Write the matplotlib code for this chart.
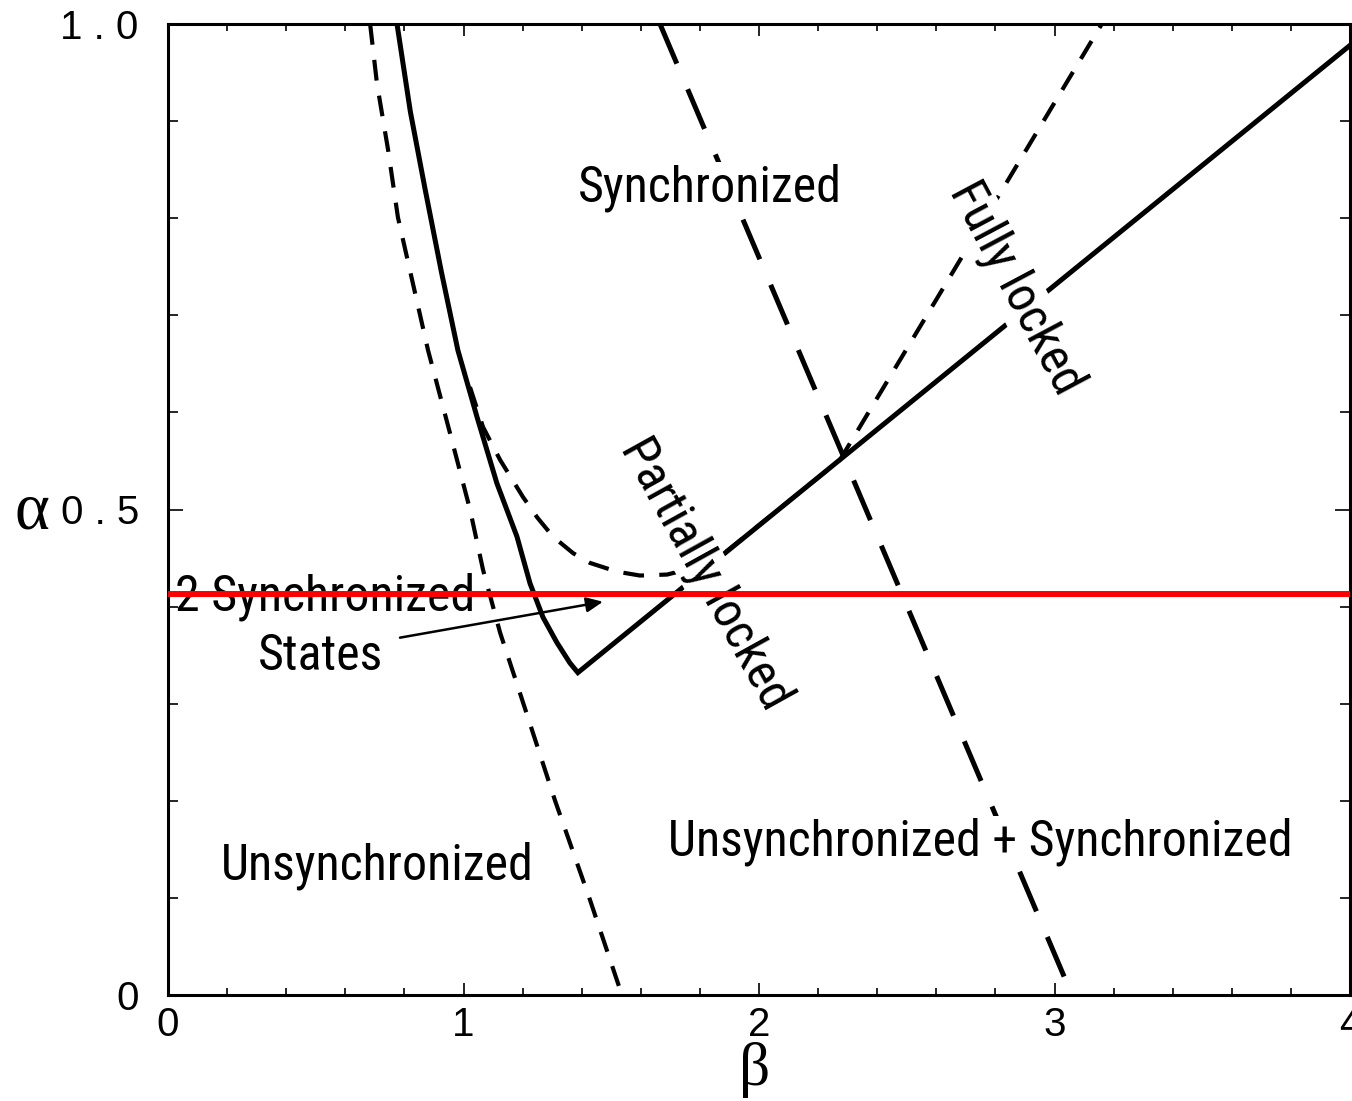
import matplotlib
matplotlib.use("Agg")
import matplotlib.pyplot as plt
from matplotlib import font_manager
import numpy as np

# ---------------- data ----------------
# left short-dashed boundary
left_dash_beta = [0.684, 0.707, 0.745, 0.778, 0.88, 0.954, 1.022, 1.066, 1.124, 1.191, 1.31, 1.428, 1.536]
left_dash_alpha = [1.0, 0.939, 0.870, 0.801, 0.664, 0.579, 0.50, 0.438, 0.373, 0.311, 0.20, 0.098, 0.0]

# solid boundary (curved part + straight part)
solid_beta = [0.775, 0.82, 0.87, 0.925, 0.981, 1.046, 1.113, 1.181, 1.225, 1.269, 1.316, 1.360, 1.387, 4.0]
solid_alpha = [1.0, 0.91, 0.83, 0.745, 0.664, 0.595, 0.527, 0.472, 0.424, 0.389, 0.363, 0.342, 0.332, 0.978]

# short-dashed U-shaped boundary
u_dash_beta = [1.022, 1.066, 1.124, 1.201, 1.249, 1.303, 1.371, 1.428, 1.519, 1.597, 1.689, 1.78, 1.85, 2.274, 3.16]
u_dash_alpha = [0.626, 0.585, 0.551, 0.513, 0.492, 0.472, 0.455, 0.445, 0.436, 0.432, 0.433, 0.440, 0.447, 0.551, 1.0]

# long-dashed boundary
long_dash_beta = [1.665, 3.059]
long_dash_alpha = [1.0, 0.0]

# red horizontal line
red_alpha = 0.413

x_ticks = [0, 1, 2, 3, 4]
x_tick_labels = ["0", "1", "2", "3", "4"]
y_ticks = [0, 0.5, 1.0]
y_tick_labels = ["0", "0 . 5", "1 . 0"]

# ---------------- fonts ----------------
avail = {f.name for f in font_manager.fontManager.ttflist}
narrow = "Liberation Sans"
for cand in ["Liberation Sans Narrow", "Arimo Narrow", "Roboto Condensed", "PT Sans Narrow",
             "Archivo Narrow", "Barlow Semi Condensed"]:
    if cand in avail:
        narrow = cand
        break
plt.rcParams['font.family'] = ['Liberation Sans', 'DejaVu Sans']
plt.rcParams['lines.scale_dashes'] = False

fig = plt.figure(figsize=(13.52, 11.01), dpi=100)
ax = fig.add_axes([168/1352, 1 - 995/1101, (1350-168)/1352, (995-24)/1101])
ax.set_xlim(0, 4)
ax.set_ylim(0, 1)

# fit label font size so the long label has the reference width (~624 px)
renderer = fig.canvas.get_renderer()
probe = fig.text(0, 0, "Unsynchronized + Synchronized", family=[narrow, 'DejaVu Sans'], fontsize=38)
w = probe.get_window_extent(renderer).width
probe.remove()
lab_size = 38 * 624.0 / w

short = (0, (15, 11))
longd = (0, (31, 20))

ax.plot(left_dash_beta, left_dash_alpha, color='black', lw=3.0, linestyle=short, zorder=2)
ax.plot(u_dash_beta, u_dash_alpha, color='black', lw=3.0, linestyle=short, zorder=2)
ax.plot(solid_beta, solid_alpha, color='black', lw=3.6, zorder=2.1, solid_joinstyle='miter')
ax.plot(long_dash_beta, long_dash_alpha, color='black', lw=3.6, linestyle=longd, zorder=2)
ax.axhline(red_alpha, color='#ff0000', lw=4.3, zorder=5)

# ---------------- text ----------------
bb = dict(facecolor='white', edgecolor='none', pad=1)
tk = dict(family=[narrow, 'DejaVu Sans'], fontsize=lab_size, ha='center', va='center')
ax.text(1.834, 0.831, "Synchronized", bbox=bb, zorder=3, **tk)
ax.text(2.87, 0.728, "Fully locked", rotation=-62, rotation_mode='anchor', bbox=bb, zorder=3, **tk)
ax.text(1.818, 0.434, "Partially locked", rotation=-61, rotation_mode='anchor', bbox=bb, zorder=3, **tk)
ax.text(0.531, 0.410, "2 Synchronized", zorder=3, **tk)
ax.text(0.517, 0.349, "States", zorder=3, **tk)
ax.text(0.707, 0.133, "Unsynchronized", zorder=3, **tk)
ax.text(2.748, 0.158, "Unsynchronized + Synchronized", bbox=bb, zorder=3, **tk)

ax.annotate("", xy=(1.472, 0.405), xytext=(0.785, 0.368),
            arrowprops=dict(arrowstyle='-|>,head_length=1.0,head_width=0.45', color='black', lw=1.8,
                            shrinkA=0, shrinkB=0), zorder=4)

# ---------------- axes ----------------
for s in ax.spines.values():
    s.set_linewidth(2.2)
ax.set_xticks(x_ticks)
ax.set_xticklabels(x_tick_labels)
ax.set_yticks(y_ticks)
ax.set_yticklabels(y_tick_labels)
ax.set_xticks(np.arange(0, 4.01, 0.2), minor=True)
ax.set_yticks(np.arange(0, 1.001, 0.1), minor=True)
ax.tick_params(axis='both', which='both', direction='in', top=True, right=True, width=1.2, labelsize=29)
ax.tick_params(axis='x', which='major', length=8.5, pad=8)
ax.tick_params(axis='x', which='minor', length=5)
ax.tick_params(axis='y', which='major', length=10.5, pad=21)
ax.tick_params(axis='y', which='minor', length=7)

ax.set_ylabel("α", family=['Liberation Serif', 'DejaVu Serif'], fontsize=48, rotation=0,
              ha='center', va='center')
ax.yaxis.set_label_coords((32-168)/1182, (995-512)/971)
ax.set_xlabel("β", family=['Liberation Serif', 'DejaVu Serif'], fontsize=44, ha='center', va='center')
ax.xaxis.set_label_coords((755-168)/1182, (995-1070)/971)

fig.savefig("out.png", dpi=100)
